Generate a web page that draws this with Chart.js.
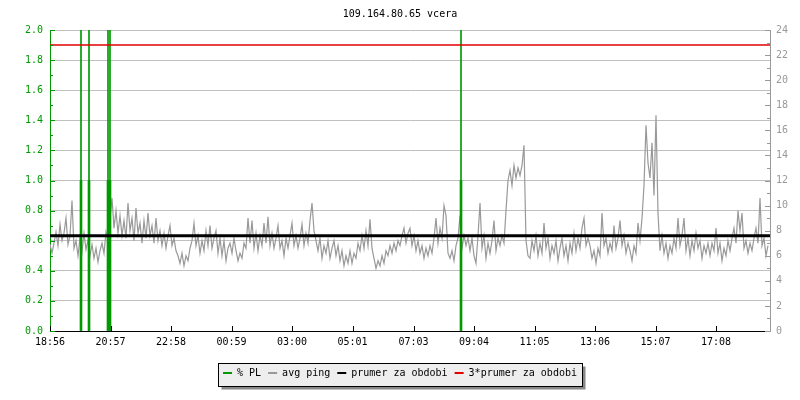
<!DOCTYPE html>
<html>
<head>
<meta charset="utf-8">
<title>109.164.80.65 vcera</title>
<script src="https://cdn.jsdelivr.net/npm/chart.js@4/dist/chart.umd.min.js"></script>
<style>
  body { margin: 0; background: #fff; }
</style>
</head>
<body>
<canvas id="pingChart" width="800" height="400"></canvas>
<script>
// time axis: minutes from 18:56, one ping sample every 4 minutes
var startLabel = "18:56";
var sampleStep = 4;
var xLabels = ["18:56", "20:57", "22:58", "00:59", "03:00", "05:01", "07:03", "09:04", "11:05", "13:06", "15:07", "17:08"];

// avg ping (ms, right axis), 30 samples per row = 2 hours
var avgPing = [
  6.9, 6.2, 7.0, 7.9, 6.8, 8.5, 7.2, 7.8, 9.0, 6.9, 7.6, 10.4, 6.6, 7.2, 6.0, 7.4, 6.3, 7.8, 6.5, 7.2, 6.0, 6.9, 5.8, 6.6, 5.5, 6.4, 7.0, 6.2, 7.9, 7.2,
  9.0, 10.6, 8.2, 9.6, 7.8, 9.2, 7.6, 8.8, 7.4, 10.2, 8.0, 9.0, 7.2, 9.8, 7.8, 8.6, 7.0, 8.8, 7.4, 9.4, 7.6, 8.4, 7.0, 9.0, 7.2, 8.0, 6.8, 7.8, 6.6, 7.6,
  8.4, 6.8, 7.4, 6.4, 6.0, 5.4, 6.2, 5.2, 6.0, 5.6, 6.6, 7.2, 8.6, 6.8, 7.6, 6.2, 7.2, 6.4, 8.0, 6.8, 8.4, 6.6, 7.4, 8.0, 6.2, 7.4, 6.0, 7.2, 5.6, 6.6,
  7.0, 6.2, 7.4, 6.4, 5.6, 6.2, 5.8, 7.0, 6.6, 9.0, 7.0, 8.8, 6.6, 7.8, 6.4, 7.6, 6.8, 8.6, 7.0, 9.1, 6.8, 7.8, 6.6, 7.4, 8.4, 6.6, 7.2, 6.0, 7.4, 6.6,
  7.6, 8.6, 6.8, 7.6, 6.6, 7.4, 8.5, 6.8, 7.8, 7.0, 8.8, 10.2, 8.0, 7.2, 6.4, 7.4, 5.8, 6.8, 6.2, 7.2, 5.8, 6.6, 7.2, 6.0, 6.8, 5.6, 6.4, 5.2, 6.0, 5.4,
  6.4, 5.4, 6.2, 5.8, 7.0, 6.4, 7.6, 6.6, 8.0, 6.8, 8.9, 6.6, 5.8, 5.0, 5.6, 5.2, 6.0, 5.4, 6.4, 6.0, 6.8, 6.2, 7.0, 6.4, 7.2, 6.8, 7.6, 8.2, 7.0, 7.8,
  8.2, 6.8, 7.6, 6.4, 7.2, 6.2, 6.8, 5.8, 6.6, 6.0, 6.8, 6.2, 7.4, 9.0, 7.0, 8.2, 7.4, 10.0, 9.2, 6.2, 5.8, 6.4, 5.6, 6.8, 7.4, 9.2, 6.6, 7.6, 6.8, 7.4,
  6.4, 7.4, 6.0, 5.4, 7.6, 10.2, 6.6, 7.6, 5.8, 7.0, 6.2, 7.2, 8.8, 6.4, 7.4, 6.8, 7.6, 7.0, 9.6, 12.0, 12.8, 11.6, 13.2, 12.2, 13.0, 12.4, 13.2, 14.8, 7.2, 6.0,
  5.8, 7.2, 6.4, 7.6, 6.0, 7.0, 6.2, 8.6, 6.6, 7.4, 5.8, 6.8, 6.2, 7.2, 5.6, 6.6, 7.4, 6.0, 6.8, 5.6, 7.0, 6.2, 7.8, 6.4, 7.4, 6.6, 8.2, 9.0, 6.8, 7.4,
  6.8, 5.8, 6.4, 5.4, 6.6, 6.0, 9.4, 6.8, 7.4, 6.2, 7.0, 6.4, 8.4, 6.6, 7.4, 8.8, 6.8, 7.6, 6.2, 7.0, 6.4, 5.6, 6.8, 6.2, 8.6, 7.2, 9.0, 11.6, 16.4, 13.4,
  12.2, 15.0, 10.8, 17.2, 9.4, 6.4, 7.6, 6.2, 7.0, 5.8, 6.8, 6.2, 7.4, 6.6, 9.0, 6.8, 7.6, 9.0, 6.4, 7.4, 6.0, 7.2, 6.4, 7.8, 6.6, 7.2, 5.8, 6.8, 6.2, 7.0,
  6.0, 7.0, 6.4, 8.2, 6.2, 7.0, 5.6, 6.6, 6.0, 7.2, 6.4, 7.4, 8.2, 7.0, 9.6, 8.0, 9.4, 6.6, 7.2, 6.2, 7.0, 6.4, 7.4, 8.2, 7.0, 10.6, 6.8, 7.4, 6.0, 6.8
];

// packet loss events (minutes from start), level and peak (left axis)
var plMinutes = [62, 78, 116, 120, 822];
var plLevel = [1.0, 1.0, 1.0, 1.0, 1.0];
var plPeak = [2.5, 2.5, 2.5, 2.5, 2.5];

var prumer = 7.6;          // ms
var prumer3 = 3 * prumer;  // ms
var dayMinutes = 1440;

var GREEN = "#009a00";
var GRAY = "#999999";
var FONT = "'DejaVu Sans Mono', monospace";

function toMinutes(label) {
  var p = label.split(":");
  var s = startLabel.split(":");
  var m = (parseInt(p[0], 10) * 60 + parseInt(p[1], 10)) - (parseInt(s[0], 10) * 60 + parseInt(s[1], 10));
  return (m + dayMinutes) % dayMinutes;
}

var pingPoints = avgPing.map(function (v, i) { return {x: i * sampleStep, y: v}; });
var plPoints = plMinutes.map(function (m, i) { return {x: m, y: plLevel[i]}; });
var plPeakPoints = plMinutes.map(function (m, i) { return {x: m, y: plPeak[i]}; });
var meanPoints = [{x: 0, y: prumer}, {x: dayMinutes, y: prumer}];
var mean3Points = [{x: 0, y: prumer3}, {x: dayMinutes, y: prumer3}];

// small inward tick marks like the rrd style graph
var tickMarks = {
  id: "tickMarks",
  afterDatasetsDraw: function (chart) {
    var ctx = chart.ctx;
    var area = chart.chartArea;
    var y = chart.scales.y, y1 = chart.scales.y1, x = chart.scales.x;
    ctx.save();
    ctx.lineWidth = 1;
    ctx.strokeStyle = GREEN;
    for (var i = 0; i <= 20; i++) {
      var py = Math.round(y.getPixelForValue(i / 10)) + 0.5;
      ctx.beginPath();
      ctx.moveTo(area.left, py);
      ctx.lineTo(area.left + (i % 2 === 0 ? 5 : 3), py);
      ctx.stroke();
    }
    ctx.strokeStyle = GRAY;
    for (var j = 0; j <= 24; j++) {
      var qy = Math.round(y1.getPixelForValue(j)) + 0.5;
      ctx.beginPath();
      ctx.moveTo(area.right, qy);
      ctx.lineTo(area.right - (j % 2 === 0 ? 5 : 3), qy);
      ctx.stroke();
    }
    ctx.strokeStyle = "#000";
    xLabels.forEach(function (l) {
      var px = Math.round(x.getPixelForValue(toMinutes(l))) + 0.5;
      ctx.beginPath();
      ctx.moveTo(px, area.bottom);
      ctx.lineTo(px, area.bottom - 5);
      ctx.stroke();
    });
    ctx.restore();
  }
};

// grey box with shadow behind the legend
var legendBox = {
  id: "legendBox",
  beforeDraw: function (chart) {
    var lg = chart.legend;
    if (!lg || !lg.legendHitBoxes || !lg.legendHitBoxes.length) return;
    var left = Infinity, right = -Infinity, top = Infinity, bottom = -Infinity;
    lg.legendHitBoxes.forEach(function (hb) {
      left = Math.min(left, hb.left);
      right = Math.max(right, hb.left + hb.width);
      top = Math.min(top, hb.top);
      bottom = Math.max(bottom, hb.top + hb.height);
    });
    var bx = Math.round(left - 5) + 0.5;
    var by = Math.round(top - 5) + 0.5;
    var bw = Math.round(right - left + 10);
    var bh = Math.round(bottom - top + 13);
    var ctx = chart.ctx;
    ctx.save();
    ctx.fillStyle = "#888888";
    ctx.fillRect(bx + 3, by + 3, bw, bh);
    ctx.fillStyle = "#eeeeee";
    ctx.fillRect(bx, by, bw, bh);
    ctx.strokeStyle = "#000";
    ctx.lineWidth = 1;
    ctx.strokeRect(bx, by, bw, bh);
    ctx.restore();
  }
};

var ctx = document.getElementById("pingChart").getContext("2d");
var chart = new Chart(ctx, {
  type: "line",
  data: {
    datasets: [
      {
        label: "% PL",
        type: "bar",
        data: plPoints,
        yAxisID: "y",
        backgroundColor: GREEN,
        borderWidth: 0,
        barThickness: 2,
        grouped: false,
        order: 2
      },
      {
        label: "avg ping",
        data: pingPoints,
        yAxisID: "y1",
        borderColor: GRAY,
        backgroundColor: GRAY,
        borderWidth: 1.2,
        pointRadius: 0,
        tension: 0,
        order: 4
      },
      {
        label: "prumer za obdobi",
        data: meanPoints,
        yAxisID: "y1",
        borderColor: "#000000",
        backgroundColor: "#000000",
        borderWidth: 3,
        pointRadius: 0,
        order: 1
      },
      {
        label: "3*prumer za obdobi",
        data: mean3Points,
        yAxisID: "y1",
        borderColor: "#e00000",
        backgroundColor: "#e00000",
        borderWidth: 1.5,
        pointRadius: 0,
        order: 0
      },
      {
        label: "plPeak",
        type: "bar",
        data: plPeakPoints,
        yAxisID: "y",
        backgroundColor: GREEN,
        borderWidth: 0,
        barThickness: 1,
        grouped: false,
        order: 3
      }
    ]
  },
  options: {
    responsive: false,
    animation: false,
    devicePixelRatio: 1,
    layout: { padding: { top: 0, bottom: 12, left: 0, right: 0 } },
    plugins: {
      tooltip: { enabled: false },
      title: {
        display: true,
        text: "109.164.80.65 vcera",
        color: "#000",
        font: { family: FONT, size: 10, weight: "normal", lineHeight: 1.2 },
        padding: { top: 8, bottom: 10 }
      },
      legend: {
        position: "bottom",
        labels: {
          color: "#000",
          font: { family: FONT, size: 10 },
          boxWidth: 9,
          boxHeight: 2,
          padding: 7,
          filter: function (item) { return item.text !== "plPeak"; },
          generateLabels: function (chart) {
            var items = Chart.defaults.plugins.legend.labels.generateLabels(chart);
            items.sort(function (a, b) { return a.datasetIndex - b.datasetIndex; });
            items.forEach(function (it) {
              var ds = chart.data.datasets[it.datasetIndex];
              it.fillStyle = ds.borderColor || ds.backgroundColor;
              it.strokeStyle = it.fillStyle;
              it.lineWidth = 0;
            });
            return items;
          }
        }
      }
    },
    scales: {
      x: {
        type: "linear",
        min: 0,
        max: dayMinutes,
        offset: false,
        grid: { drawOnChartArea: false, drawTicks: false },
        border: { color: "#000", width: 1 },
        ticks: {
          autoSkip: false,
          maxRotation: 0,
          color: "#000",
          padding: 5,
          font: { family: FONT, size: 10 },
          callback: function (value, index) { return xLabels[index]; }
        },
        afterBuildTicks: function (scale) {
          scale.ticks = xLabels.map(function (l) { return {value: toMinutes(l)}; });
        },
        afterFit: function (scale) { scale.height = 30; }
      },
      y: {
        position: "left",
        min: 0,
        max: 2,
        grid: { color: "#c0c0c0", drawTicks: false },
        border: { color: GREEN, width: 1 },
        ticks: {
          stepSize: 0.2,
          color: GREEN,
          padding: 7,
          font: { family: FONT, size: 10 },
          callback: function (v) { return v.toFixed(1); }
        },
        afterFit: function (scale) { scale.width = 50; }
      },
      y1: {
        position: "right",
        min: 0,
        max: 24,
        grid: { drawOnChartArea: false, drawTicks: false },
        border: { color: GRAY, width: 1 },
        ticks: {
          stepSize: 2,
          color: GRAY,
          padding: 6,
          font: { family: FONT, size: 10 }
        },
        afterFit: function (scale) { scale.width = 30; }
      }
    }
  },
  plugins: [tickMarks, legendBox]
});
</script>
</body>
</html>
